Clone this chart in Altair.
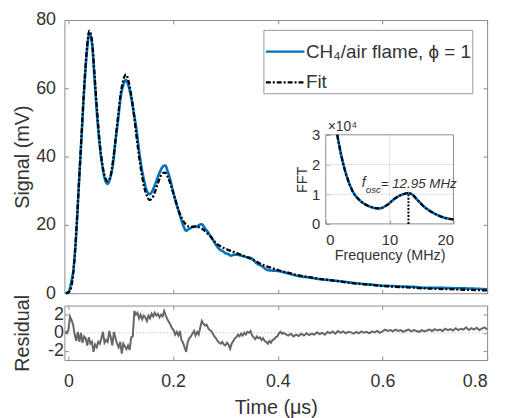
import altair as alt
import pandas as pd

FONT = "Liberation Sans"
TXT = "#333333"
FRAME = "#8c8c8c"
BLUE = "#0072BD"

# ---- main signal (time in microseconds, signal in mV) ----
sig_t = [-0.005, 0.0, 0.005, 0.01, 0.015, 0.02, 0.025, 0.03, 0.035, 0.04,
         0.045, 0.05, 0.055, 0.06, 0.065, 0.07, 0.075, 0.08, 0.085, 0.09,
         0.095, 0.1, 0.105, 0.11, 0.115, 0.12, 0.125, 0.13, 0.135, 0.14,
         0.145, 0.15, 0.155, 0.16, 0.165, 0.17, 0.175, 0.18, 0.185, 0.19,
         0.195, 0.2, 0.205, 0.21, 0.215, 0.22, 0.225, 0.23, 0.235, 0.24,
         0.245, 0.25, 0.255, 0.26, 0.265, 0.27, 0.275, 0.28, 0.285, 0.29,
         0.295, 0.3, 0.305, 0.31, 0.315, 0.32, 0.33, 0.34, 0.35, 0.36,
         0.37, 0.38, 0.39, 0.40, 0.42, 0.44, 0.46, 0.48, 0.50, 0.52,
         0.54, 0.56, 0.58, 0.60, 0.62, 0.64, 0.66, 0.68, 0.70, 0.72,
         0.74, 0.76, 0.78, 0.80]
sig_fit = [0, 0.2, 1.5, 7, 18, 32, 46, 60, 71, 76.8,
           74, 64, 53, 44, 37.5, 34, 32.8, 34, 38.5, 45,
           52, 58.5, 62.5, 64, 62, 58, 52.5, 46, 40, 35,
           31, 28.5, 27.3, 27.8, 29.5, 31.8, 33.8, 35.2, 35.3, 34,
           32, 29.5, 27, 24.5, 22.5, 21, 20, 19.5, 19.4, 19.5,
           19.5, 19.3, 18.9, 18.3, 17.6, 16.8, 15.9, 15, 14.3, 13.8,
           13.4, 13, 12.7, 12.4, 12.1, 11.8, 11.2, 10.6, 10, 9.2,
           8.4, 7.8, 7.3, 6.8, 6.0, 5.2, 4.7, 4.2, 3.8, 3.4,
           3.0, 2.7, 2.4, 2.1, 1.9, 1.75, 1.6, 1.4, 1.3, 1.2,
           1.1, 1.0, 0.9, 0.8]
sig_data = [0, 0.3, 3.0, 7.5, 17.3, 31.6, 45.5, 59.3, 70.2, 76,
            73.2, 62.5, 51.6, 42.9, 37.2, 33.2, 32.0, 33.8, 37.6, 44.5,
            50.8, 57.6, 61.0, 62.4, 60.6, 57.3, 52.8, 48.1, 41.8, 36.6,
            32.8, 29.9, 29.0, 29.8, 31.6, 33.7, 35.6, 37.0, 37.4, 35.6,
            33.0, 29.8, 26.9, 24.3, 21.8, 19.6, 18.3, 18.8, 19.2, 19.6,
            19.5, 20.0, 20.2, 19.2, 18.2, 17.1, 15.9, 14.6, 13.5, 12.7,
            12.3, 11.7, 11.5, 11.0, 11.2, 11.3, 11.0, 10.6, 10.2, 8.7,
            7.9, 6.8, 6.6, 6.5, 5.8, 5.0, 4.6, 4.1, 3.8, 3.5,
            3.1, 2.75, 2.5, 2.2, 2.1, 1.95, 1.85, 1.6, 1.6, 1.55,
            1.45, 1.4, 1.3, 1.15]

# ---- residual ----
res_t = [-0.006, -0.003, 0.000, 0.003, 0.006, 0.009, 0.012, 0.015, 0.018, 0.021,
         0.024, 0.027, 0.030, 0.033, 0.036, 0.039, 0.042, 0.045, 0.048, 0.051,
         0.054, 0.057, 0.060, 0.063, 0.066, 0.069, 0.072, 0.075, 0.078, 0.081,
         0.084, 0.087, 0.090, 0.093, 0.096, 0.099, 0.102, 0.105, 0.108, 0.111,
         0.114, 0.117, 0.120, 0.123, 0.126, 0.129, 0.132, 0.135, 0.138, 0.141,
         0.144, 0.147, 0.150, 0.153, 0.156, 0.159, 0.162, 0.165, 0.168, 0.171,
         0.174, 0.177, 0.180, 0.183, 0.186, 0.189, 0.192, 0.195, 0.198, 0.201,
         0.204, 0.207, 0.210, 0.213, 0.216, 0.219, 0.222, 0.225, 0.228, 0.231,
         0.234, 0.237, 0.240, 0.243, 0.246, 0.249, 0.252, 0.255, 0.258, 0.261,
         0.264, 0.267, 0.270, 0.273, 0.276, 0.279, 0.282, 0.285, 0.288, 0.291,
         0.294, 0.297, 0.300, 0.303, 0.306, 0.309, 0.312, 0.315, 0.318, 0.321,
         0.324, 0.327, 0.330, 0.333, 0.336, 0.339, 0.342, 0.345, 0.348, 0.351,
         0.354, 0.357, 0.360, 0.363, 0.366, 0.369, 0.372, 0.375, 0.378, 0.381,
         0.384, 0.387, 0.390, 0.393, 0.396, 0.399, 0.402, 0.405, 0.408,
         0.410, 0.415, 0.420, 0.425, 0.430, 0.435, 0.440, 0.445, 0.450, 0.455,
         0.460, 0.465, 0.470, 0.475, 0.480, 0.485, 0.490, 0.495, 0.500, 0.505,
         0.510, 0.515, 0.520, 0.525, 0.530, 0.535, 0.540, 0.545, 0.550, 0.555,
         0.560, 0.565, 0.570, 0.575, 0.580, 0.585, 0.590, 0.595, 0.600, 0.605,
         0.610, 0.615, 0.620, 0.625, 0.630, 0.635, 0.640, 0.645, 0.650, 0.655,
         0.660, 0.665, 0.670, 0.675, 0.680, 0.685, 0.690, 0.695, 0.700, 0.705,
         0.710, 0.715, 0.720, 0.725, 0.730, 0.735, 0.740, 0.745, 0.750, 0.755,
         0.760, 0.765, 0.770, 0.775, 0.780, 0.785, 0.790, 0.795, 0.800]
res_v = [0.1, 0.0, 0.3, 1.8, 1.4, 0.9, -0.2, -0.9, 0.1, -1.0,
         0.0, -1.1, -0.4, -0.6, -1.4, -0.5, -1.2, -1.0, -2.1, -1.3,
         -1.6, -1.0, -1.2, -0.6, 0.1, -1.1, -0.8, -1.0, 0.2, -0.5,
         -1.4, 0.1, -0.6, -1.2, -1.6, -1.0, -2.3, -1.2, -1.5, -1.8,
         -1.4, -1.9, -0.5, -0.4, 2.4, 2.0, 2.2, 1.6, 2.0, 1.5,
         1.9, 1.7, 1.3, 1.9, 1.6, 2.1, 1.8, 2.2, 1.9, 2.1,
         1.7, 2.0, 1.8, 2.4, 1.9, 1.5, 1.2, 0.9, 0.5, 0.3,
         -0.2, 0.1, -0.3, 0.2, -0.8, -1.1, -1.6, -2.1, -1.0, -0.6,
         -0.4, -0.1, 0.2, -0.3, 0.1, -0.2, 0.6, 1.3, 1.0, 0.8,
         0.9, 0.5, 0.3, 0.2, -0.1, -0.4, -0.6, -0.9, -1.1, -1.2,
         -1.0, -1.3, -1.4, -1.1, -1.3, -1.75, -1.2, -0.9, -0.6, -0.5,
         -0.2, -0.4, -0.1, -0.3, 0.0, -0.2, 0.1, 0.0, 0.2, -0.3,
         -0.5, -0.7, -0.4, -0.6, -0.5, -0.8, -0.6, -0.9, -1.0, -1.2,
         -0.9, -1.1, -0.8, -0.7, -0.5, -0.4, -0.1, 0.1, -0.1,
         0.0, -0.15, -0.3, -0.1, -0.4, -0.2, -0.35, -0.1, -0.3, -0.05,
         -0.25, -0.1, -0.2, 0.05, -0.15, 0.0, -0.2, 0.1, -0.05, 0.15,
         -0.1, 0.2, 0.0, 0.15, -0.05, 0.1, 0.05, -0.1, 0.1, -0.05,
         0.15, 0.0, 0.1, -0.05, 0.15, 0.05, 0.2, 0.0, 0.15, 0.35,
         0.2, 0.3, 0.15, 0.35, 0.2, 0.3, 0.1, 0.25, 0.35, 0.15,
         0.3, 0.2, 0.1, 0.3, 0.15, 0.25, 0.35, 0.2, 0.4, 0.25,
         0.35, 0.2, 0.45, 0.3, 0.4, 0.25, 0.5, 0.3, 0.45, 0.35,
         0.6, 0.3, 0.5, 0.35, 0.55, 0.3, 0.45, 0.6, 0.35]

# ---- inset FFT (frequency in MHz, amplitude in 1e4) ----
fft_f = [1.8, 2.4, 3.2, 4.2, 5.5, 6.8, 8.4, 9.7, 10.9, 12.0, 12.95, 13.6, 14.3, 15.6, 17.1, 18.7, 20.0]
fft_a = [3.0, 2.33, 1.66, 1.1, 0.76, 0.59, 0.52, 0.65, 0.87, 0.99, 1.04, 0.98, 0.82, 0.54, 0.34, 0.2, 0.15]
f_osc = 12.95
f_osc_peak = 1.04

SERIES = ["CH\u2084/air flame, \u03d5 = 1", "Fit"]
T_TICKS = [0, 0.2, 0.4, 0.6, 0.8]
X_DOM = [-0.0076, 0.8]
FIT_DASH = [5, 2, 2, 2]

main_df = pd.DataFrame({"t": sig_t, "s": sig_data, "series": SERIES[0]})
fit_df = pd.DataFrame({"t": sig_t, "s": sig_fit, "series": SERIES[1]})
res_df = pd.DataFrame({"t": res_t, "r": res_v})
fft_df = pd.DataFrame({"f": fft_f, "a": fft_a})


def in_axis(orient, **kw):
    return alt.Axis(orient=orient, offset=-4, tickSize=4, domain=False, grid=False, **kw)


legend = alt.Legend(orient="none", legendX=201, legendY=10, title=None,
                    symbolType="stroke", symbolSize=1521, symbolStrokeWidth=2.2,
                    labelFontSize=19, labelFont=FONT, labelColor=TXT,
                    padding=1, rowPadding=0, strokeColor="#999999", fillColor="white",
                    labelOffset=0, labelLimit=400)
color = alt.Color("series:N", scale=alt.Scale(domain=SERIES, range=[BLUE, "black"]), legend=legend)
dash = alt.StrokeDash("series:N", scale=alt.Scale(domain=SERIES, range=[[1, 0], FIT_DASH]), legend=legend)

main_x = alt.X("t:Q", scale=alt.Scale(domain=X_DOM, nice=False, zero=False),
               axis=in_axis("bottom", values=T_TICKS, labels=False, title=None))
main_y = alt.Y("s:Q", scale=alt.Scale(domain=[0, 80], nice=False),
               axis=in_axis("left", values=[0, 20, 40, 60, 80], title="Signal (mV)",
                            labelPadding=9, titlePadding=3))

blue = alt.Chart(main_df).mark_line(strokeWidth=2.6, interpolate="monotone").encode(
    x=main_x, y=main_y, color=color, strokeDash=dash)
fit = alt.Chart(fit_df).mark_line(strokeWidth=2.3, interpolate="monotone").encode(
    x=alt.X("t:Q", axis=None), y=alt.Y("s:Q", axis=None), color=color, strokeDash=dash)
mirror = alt.Chart(fit_df).mark_line(opacity=0).encode(
    x=alt.X("t:Q", axis=in_axis("top", values=T_TICKS, labels=False, title=None)),
    y=alt.Y("s:Q", axis=in_axis("right", values=[0, 20, 40, 60, 80], labels=False, title=None)))
main_group = alt.layer(blue, fit, mirror).resolve_axis(x="independent", y="independent")

# ---- inset ----
IX = alt.Scale(domain=[0, 20], range=[264, 393], nice=False, zero=False)
IY = alt.Scale(domain=[0, 3], range=[206, 116], nice=False)
ix_axis = alt.Axis(orient="bottom", offset=-74, tickSize=4, values=[0, 10, 20], title="Frequency (MHz)",
                   labelFontSize=15, titleFontSize=14.5, labelPadding=9, titlePadding=1,
                   domain=False, grid=False)
iy_axis = alt.Axis(orient="left", offset=-268, tickSize=4, values=[0, 1, 2, 3], title="FFT",
                   labelFontSize=15, titleFontSize=14.5, labelPadding=6, titlePadding=2,
                   domain=False, grid=False)
IXE = dict(scale=IX, axis=ix_axis)
IYE = dict(scale=IY, axis=iy_axis)

gx = pd.DataFrame({"f": [10], "a": [0], "a2": [3]})
gy = pd.DataFrame({"f": [0, 0], "f2": [20, 20], "a": [1, 2]})
frame_df = pd.DataFrame({"f": [0, 0, 0, 20], "f2": [20, 20, 0, 20],
                         "a": [0, 3, 0, 0], "a2": [0, 3, 3, 3]})
osc_df = pd.DataFrame({"f": [f_osc], "a": [0], "a2": [f_osc_peak]})

grid_v = alt.Chart(gx).mark_rule(color="#e3e3e3", strokeWidth=1).encode(
    x=alt.X("f:Q", **IXE), y=alt.Y("a:Q", **IYE), y2="a2:Q")
grid_h = alt.Chart(gy).mark_rule(color="#e3e3e3", strokeWidth=1).encode(
    x=alt.X("f:Q", **IXE), x2="f2:Q", y=alt.Y("a:Q", **IYE))
frame = alt.Chart(frame_df).mark_rule(color=FRAME, strokeWidth=1).encode(
    x=alt.X("f:Q", **IXE), x2="f2:Q", y=alt.Y("a:Q", **IYE), y2="a2:Q")
inset_line = alt.Chart(fft_df).mark_line(color=BLUE, strokeWidth=2.6, interpolate="monotone").encode(
    x=alt.X("f:Q", **IXE), y=alt.Y("a:Q", **IYE))
inset_fit = alt.Chart(fft_df).mark_line(color="black", strokeWidth=2.2, strokeDash=FIT_DASH,
                                        interpolate="monotone").encode(
    x=alt.X("f:Q", **IXE), y=alt.Y("a:Q", **IYE))
osc_rule = alt.Chart(osc_df).mark_rule(color="black", strokeWidth=2, strokeDash=[2, 1.5]).encode(
    x=alt.X("f:Q", **IXE), y=alt.Y("a:Q", **IYE), y2="a2:Q")


def label(text, f, a, size, align="left", baseline="alphabetic", italic=True, dx=0, dy=0):
    df = pd.DataFrame({"f": [f], "a": [a], "txt": [text]})
    return alt.Chart(df).mark_text(font=FONT, fontSize=size, color=TXT, align=align, baseline=baseline,
                                   fontStyle="italic" if italic else "normal", dx=dx, dy=dy).encode(
        x=alt.X("f:Q", **IXE), y=alt.Y("a:Q", **IYE), text="txt:N")


t_x10 = label("\u00d710\u2074", 0, 3, 14, baseline="bottom", italic=False, dx=2, dy=-1)
t_f = label("f", 5.63, 1.23, 14)
t_osc = label("osc", 6.25, 1.03, 10)
t_eq = label("= 12.95 MHz", 8.6, 1.21, 13.5)

inset_group = alt.layer(grid_v, grid_h, frame, inset_line, inset_fit, osc_rule, t_x10, t_f, t_osc, t_eq)

top = alt.layer(main_group, inset_group).resolve_scale(x="independent", y="independent").properties(
    width=427, height=276)

# ---- residual panel ----
res_x = alt.X("t:Q", scale=alt.Scale(domain=X_DOM, nice=False, zero=False),
              axis=in_axis("bottom", values=T_TICKS, format="~g", title="Time (\u03bcs)",
                           labelPadding=13, titlePadding=7))
res_y = alt.Y("r:Q", scale=alt.Scale(domain=[-3, 3], nice=False),
              axis=in_axis("left", values=[-2, 0, 2], labelExpr="'' + datum.value", title="Residual",
                           labelPadding=1, titlePadding=15))
zero_line = alt.Chart(pd.DataFrame({"r": [0]})).mark_rule(color="#c4c4c4", strokeWidth=1,
                                                          strokeDash=[1.5, 2]).encode(
    y=alt.Y("r:Q", axis=None))
res_line = alt.Chart(res_df).mark_line(color="#666666", strokeWidth=2).encode(x=res_x, y=res_y)
res_mirror = alt.Chart(res_df).mark_line(opacity=0).encode(
    x=alt.X("t:Q", axis=in_axis("top", values=T_TICKS, labels=False, title=None)),
    y=alt.Y("r:Q", axis=in_axis("right", values=[-2, 0, 2], labels=False, title=None)))
residual = alt.layer(zero_line, res_line, res_mirror).resolve_axis(
    x="independent", y="independent").properties(width=427, height=55)

chart = alt.vconcat(top, residual, spacing=-9.5).resolve_legend(
    color="independent", strokeDash="independent").properties(
    padding={"left": 4, "top": 0, "right": 5, "bottom": 0}
).configure(font=FONT).configure_axis(
    labelFont=FONT, titleFont=FONT, labelColor=TXT, titleColor=TXT, tickColor=FRAME,
    labelFontSize=18, titleFontSize=20, titleFontWeight="normal"
).configure_view(stroke=FRAME, strokeWidth=1)

chart.save("out.html", embed_options={"renderer": "svg", "actions": False})
